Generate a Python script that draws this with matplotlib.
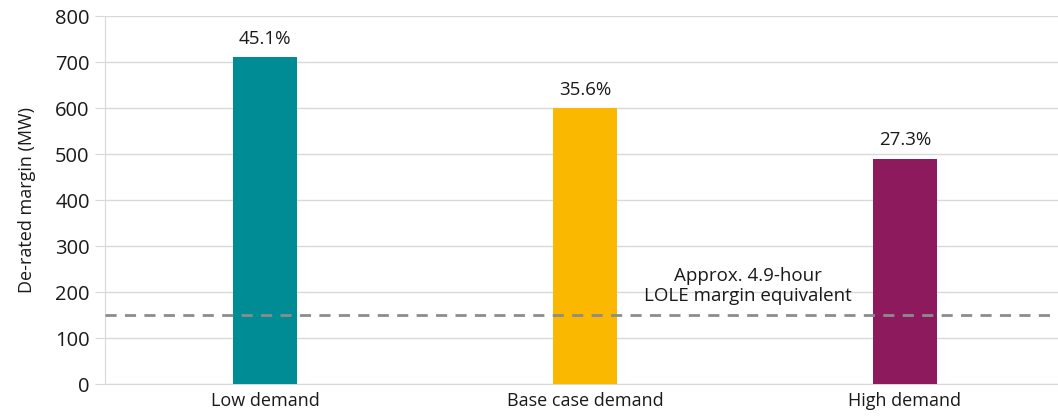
import matplotlib
matplotlib.use("Agg")
import matplotlib.pyplot as plt

plt.rcParams['font.family'] = ['Open Sans', 'DejaVu Sans']

categories = ["Low demand", "Base case demand", "High demand"]
margins = [710, 600, 490]
pct_labels = ["45.1%", "35.6%", "27.3%"]
colors = ["#008C95", "#FBB800", "#8E1A5E"]
lole_level = 150

fig = plt.figure(figsize=(10.58, 4.18), dpi=100)
ax = fig.add_axes([105 / 1058, 34 / 418, 960 / 1058, 368 / 418])

x = range(len(categories))
ax.bar(x, margins, width=0.2, color=colors, zorder=3)

for xi, val, lab in zip(x, margins, pct_labels):
    ax.text(xi, val + 20, lab, ha="center", va="bottom", fontsize=13.5, color="#1a1a1a")

# LOLE reference line
ax.axhline(lole_level, color="#8C8C8C", linestyle=(0, (4, 3)), linewidth=2, zorder=4)
ax.text(1.51, 172, "Approx. 4.9-hour\nLOLE margin equivalent", ha="center", va="bottom",
        fontsize=13.5, color="#1a1a1a", linespacing=1.15)

ax.set_xlim(-0.5, 2.5)
ax.set_ylim(0, 800)
ax.set_yticks(range(0, 801, 100))
ax.set_xticks(list(x))
ax.set_xticklabels(categories)
ax.grid(axis="y", color="#D9D9D9", linewidth=1, zorder=0)
ax.set_ylabel("De-rated margin (MW)", fontsize=13, color="#1a1a1a", labelpad=14)

for s in ["top", "right"]:
    ax.spines[s].set_visible(False)
ax.spines["left"].set_color("#D9D9D9")
ax.spines["bottom"].set_color("#D9D9D9")
ax.tick_params(axis="y", length=7, color="#D9D9D9", labelsize=14.5, labelcolor="#1a1a1a", pad=4)
ax.tick_params(axis="x", length=0, labelsize=13, labelcolor="#1a1a1a", pad=6)

fig.savefig("out.png", dpi=100)
